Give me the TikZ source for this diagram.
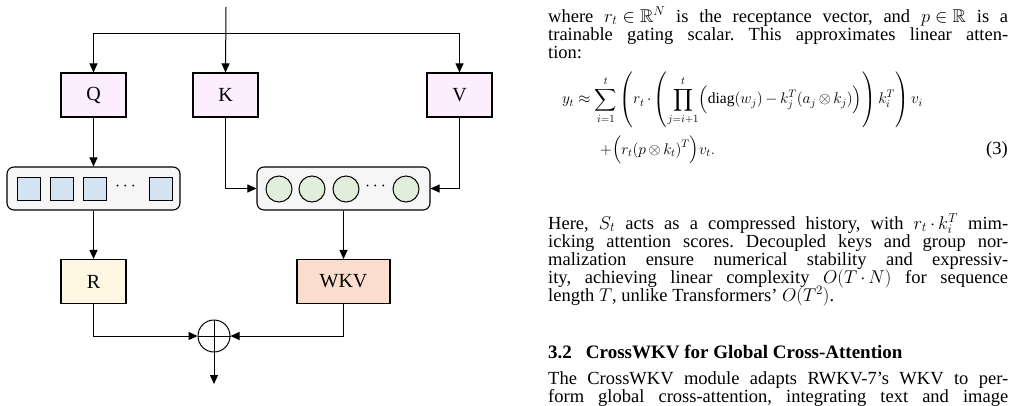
\RequirePackage{fix-cm}
\documentclass[tikz,border=0pt]{standalone}
\usepackage{amsmath,amssymb}
\usepackage{fontspec}
\setmainfont{Liberation Serif}
\usetikzlibrary{arrows.meta}
\definecolor{qkv}{HTML}{FDEEFD}
\definecolor{rbox}{HTML}{FEF7E2}
\definecolor{wkvbox}{HTML}{FADDCC}
\definecolor{sq}{HTML}{D4E3F1}
\definecolor{ci}{HTML}{E2EEDC}
\definecolor{cont}{HTML}{F6F6F6}
\frenchspacing
\thickmuskip=5mu
\medmuskip=3mu
\begin{document}
\begin{tikzpicture}[x=1pt,y=-1pt,
  box/.style={draw,line width=1.1pt,minimum width=65pt,minimum height=44pt,font=\fontsize{20}{20}\selectfont,inner sep=0},
  ct/.style={draw,line width=1.1pt,rounded corners=7pt,fill=cont,minimum width=173pt,minimum height=43pt},
  sqr/.style={draw,line width=1pt,fill=sq,minimum size=23pt,inner sep=0},
  cir/.style={draw,line width=1pt,fill=ci,circle,minimum size=26pt,inner sep=0},
  ar/.style={line width=1pt,-{Triangle[length=9pt,width=8pt]}},
  ln/.style={line width=1pt},
  tl/.style={anchor=base west,inner sep=0,font=\fontsize{18.5}{18}\selectfont},
  eq/.style={anchor=base west,inner sep=0,font=\fontsize{15.5}{18}\selectfont}]
\useasboundingbox (0,0) rectangle (1020,405);
% diagram
\coordinate (in) at (226,7);
\coordinate (sp) at (226,33);
\node[box,fill=qkv] (Q) at (93.5,95) {Q};
\node[box,fill=qkv] (K) at (225.5,95) {K};
\node[box,fill=qkv] (V) at (459.5,95) {V};
\node[ct] (L) at (93.5,188.5) {};
\node[ct] (Rc) at (343.5,188.5) {};
\node[sqr] (s1) at (28.5,189) {};
\node[sqr] (s2) at (61.5,189) {};
\node[sqr] (s3) at (94.5,189) {};
\node[sqr] (s4) at (160.5,189) {};
\node[font=\fontsize{18}{18}\selectfont] (d1) at (127,186) {$\cdots$};
\node[cir] (c1) at (279,189) {};
\node[cir] (c2) at (312,189) {};
\node[cir] (c3) at (346,189) {};
\node[cir] (c4) at (406,189) {};
\node[font=\fontsize{18}{18}\selectfont] (d2) at (377,186) {$\cdots$};
\node[box,fill=rbox] (R) at (93.5,281.5) {R};
\node[box,fill=wkvbox,minimum width=93pt] (W) at (343.5,281.5) {WKV};
\node[draw,circle,line width=1pt,minimum size=32pt,inner sep=0] (O) at (214,336) {};
\draw[ln] (O.north)--(O.south) (O.west)--(O.east);
\coordinate (out) at (214,384);
\draw[ar] (in)--(K.north);
\draw[ar] (sp-|Q)--(Q.north);
\draw[ln] (sp-|Q)--(sp-|V);
\draw[ar] (sp-|V)--(V.north);
\draw[ar] (Q.south)--(L.north);
\draw[ar] (K.south)|-(Rc.west);
\draw[ar] (V.south)|-(Rc.east);
\draw[ar] (L.south)--(R.north);
\draw[ar] (Rc.south)--(W.north);
\draw[ar] (R.south)|-(O.west);
\draw[ar] (W.south)|-(O.east);
\draw[ar] (O.south)--(out);
% text
\node[tl] (t1) at (548,22) {\hbox to 460pt{where $r_t\in\mathbb{R}^N$ is the receptance vector, and $p\in\mathbb{R}$ is a}};
\node[tl] (t2) at (548,40) {\hbox to 460pt{trainable gating scalar. This approximates linear atten-}};
\node[tl] (t3) at (548,58) {tion:};
\node[eq,anchor=west] (e1) at (562,100) {$\displaystyle y_t\approx\sum_{i=1}^{t}\left(r_t\cdot\left(\prod_{j=i+1}^{t}\Bigl(\mathrm{diag}(w_j)-k_j^T(a_j\otimes k_j)\Bigr)\right)k_i^T\right)v_i$};
\node[eq] (e2) at (600,154) {$\displaystyle +\Bigl(r_t(p\otimes k_t)^T\Bigr)v_t.$};
\node[tl,anchor=base east] (e3) at (1008,154) {(3)};
\node[tl] (p1) at (548,229) {\hbox to 460pt{Here, $S_t$ acts as a compressed history, with $r_t\cdot k_i^T$ mim-}};
\node[tl] (p2) at (548,247) {\hbox to 460pt{icking attention scores. Decoupled keys and group nor-}};
\node[tl] (p3) at (548,265) {\hbox to 460pt{malization ensure numerical stability and expressiv-}};
\node[tl] (p4) at (548,283) {\hbox to 460pt{ity, achieving linear complexity $O(T\cdot N)$ for sequence}};
\node[tl] (p5) at (548,301) {length $T$, unlike Transformers’ $O(T^2)$.};
\node[tl,font=\fontsize{19}{18}\selectfont\bfseries] (h) at (548,358) {3.2\hspace{14pt}CrossWKV for Global Cross-Attention};
\node[tl] (q1) at (548,384) {\hbox to 460pt{The CrossWKV module adapts RWKV-7’s WKV to per-}};
\node[tl] (q2) at (548,402) {\hbox to 460pt{form global cross-attention, integrating text and image}};
\end{tikzpicture}
\end{document}
